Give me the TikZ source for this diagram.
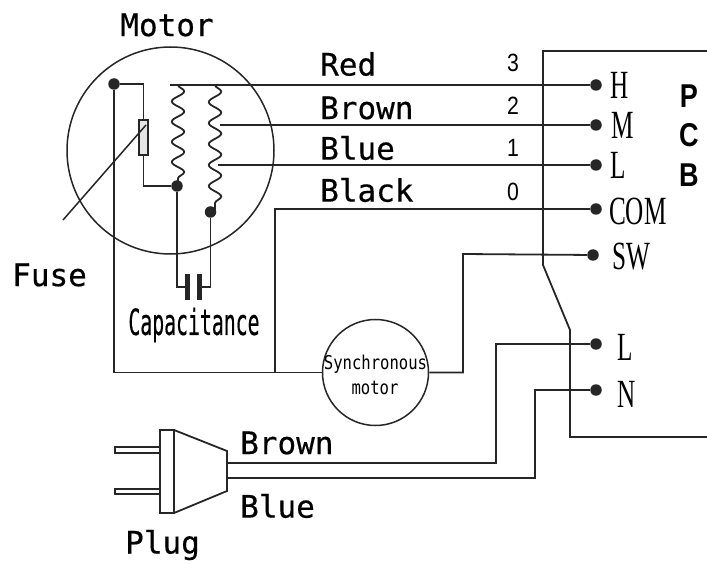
\documentclass[tikz,border=0pt]{standalone}
\usepackage{fontspec}
\usetikzlibrary{positioning,decorations.pathmorphing}
\setmainfont{Liberation Sans}
\newfontfamily\labelfont[FakeBold=0.4]{DejaVu Sans Mono}
\newfontfamily\capfont[FakeStretch=0.55,FakeBold=0.4]{DejaVu Sans Mono}
\newfontfamily\synfont[FakeStretch=0.82]{DejaVu Sans Mono}
\newfontfamily\pinfont[FakeStretch=0.63]{Liberation Serif}
\newfontfamily\pcbfont[FakeStretch=0.82]{Liberation Sans Bold}
\newfontfamily\numfont[FakeStretch=0.85]{Liberation Sans}
\definecolor{inkline}{HTML}{262626}
\tikzset{
  wire/.style={draw=inkline,line width=1.8pt,line join=miter},
  thin wire/.style={draw=inkline,line width=1.5pt},
  dot/.style={circle,fill=black!85,inner sep=0pt,minimum size=11.5pt},
  coil/.style={wire,decorate,decoration={snake,segment length=#1,amplitude=6.2pt}},
  wire label/.style={inner sep=0pt,font=\labelfont\fontsize{31}{31}\selectfont},
  num label/.style={inner sep=0pt,font=\numfont\fontsize{25}{25}\selectfont},
  pcb label/.style={inner sep=0pt,font=\pcbfont\fontsize{33}{33}\selectfont},
  pin label/.style={inner sep=0pt,font=\pinfont\fontsize{40}{40}\selectfont},
}
\begin{document}
\begin{tikzpicture}[x=1pt,y=-1pt]
    \useasboundingbox (0,0) rectangle (707,564);
    % motor and its parts
    \node[circle,thin wire,minimum size=207pt,inner sep=0pt] (motor) at (170.5,150.5) {};
    \node[dot] (gnd) at (114,84) {};
    \node[dot] (c1)  at (177,186) {};
    \node[dot] (c2)  at (210.5,212) {};
    \node[draw=inkline,fill=black!10,line width=1.2pt,minimum width=9pt,minimum height=35pt,inner sep=0pt] (fuse) at (143.5,137.5) {};
    \coordinate (fuse_top) at (143.5,84);
    \coordinate (fuse_bot) at (143.5,186);
    \coordinate (fuse_tip) at (146,125);
    \coordinate (fuse_end) at (63,220);
    \coordinate (red_in)   at (170,85);
    \coordinate (brown_in) at (220,125);
    \coordinate (blue_in)  at (218,165);
    \coordinate (coil1_a)  at (178,85);
    \coordinate (coil1_b)  at (178,186);
    \coordinate (coil2_a)  at (215,85);
    \coordinate (coil2_b)  at (215,212);
    % pins
    \node[dot] (h)   at (596,85)  {};
    \node[dot] (m)   at (596,125) {};
    \node[dot] (l)   at (596,165) {};
    \node[dot] (com) at (596,209) {};
    \node[dot] (sw)  at (593,255) {};
    \node[dot] (ln)  at (596,344) {};
    \node[dot] (nn)  at (596,390) {};
    \node[pin label] [right=8pt of h]   {H};
    \node[pin label] [right=9pt of m]   {M};
    \node[pin label] [right=8pt of l]   {L};
    \node[pin label] [right=7pt of com,yshift=-2pt] {COM};
    \node[pin label] [right=13pt of sw,yshift=-2pt] {SW};
    \node[pin label] [right=15pt of ln,yshift=-3pt] {L};
    \node[pin label] [right=15pt of nn,yshift=-4pt] {N};
    % synchronous motor
    \node[circle,thin wire,minimum size=106pt,inner sep=0pt] (syn) at (375.5,372.5) {};
    \node[inner sep=0pt,font=\synfont\fontsize{19}{19}\selectfont] at (375.5,364) {Synchronous};
    \node[inner sep=0pt,font=\synfont\fontsize{19}{19}\selectfont] at (375,388) {motor};
    % capacitor
    \node[fill=black!85,minimum width=5.5pt,minimum height=26pt,inner sep=0pt] (plate_a) at (187.5,287) {};
    \node[fill=black!85,minimum width=5.5pt,minimum height=26pt,inner sep=0pt] (plate_b) at (199.5,287) {};
    \coordinate (cap_a) at (177,287);
    \coordinate (cap_b) at (210.5,287);
    % plug
    \node[draw=inkline,line width=1.6pt,minimum width=14pt,minimum height=83pt,inner sep=0pt] (plug) at (167,471.5) {};
    \coordinate (t1) at (174,430);
    \coordinate (t2) at (227,451);
    \coordinate (t3) at (227,491);
    \coordinate (t4) at (174,513);
    \coordinate (p_a) at (115,447);
    \coordinate (p_b) at (160,453);
    \coordinate (q_a) at (115,489);
    \coordinate (q_b) at (160,494);
    \coordinate (plug_l) at (227,463);
    \coordinate (plug_n) at (227,478);
    % corners of the board and of the wires
    \coordinate (pcb_a) at (707,51);
    \coordinate (pcb_b) at (543,51);
    \coordinate (pcb_c) at (543,265);
    \coordinate (pcb_d) at (570,330);
    \coordinate (pcb_e) at (570,437);
    \coordinate (pcb_f) at (707,437);
    \coordinate (blk)   at (275,209);
    \coordinate (blk_b) at (275,372.5);
    \coordinate (gnd_b) at (114,372.5);
    \coordinate (sw_a)  at (463,372.5);
    \coordinate (sw_b)  at (463,254);
    \coordinate (ln_a)  at (496,344);
    \coordinate (ln_b)  at (496,463);
    \coordinate (nn_a)  at (535,390);
    \coordinate (nn_b)  at (535,478);
    % board outline
    \draw[wire] (pcb_a) -- (pcb_b) -- (pcb_c) -- (pcb_d) -- (pcb_e) -- (pcb_f);
    % motor edges
    \draw[wire] (gnd) -- (fuse_top) -- (fuse) -- (fuse_bot) -- (c1);
    \draw[thin wire] (fuse_end) -- (fuse_tip);
    \draw[coil=20.2pt] (coil1_a) -- (coil1_b);
    \draw[coil=21pt] (coil2_a) -- (coil2_b);
    % top edges
    \draw[wire] (red_in) -- (h);
    \draw[wire] (brown_in) -- (m);
    \draw[wire] (blue_in) -- (l);
    \draw[wire] (com) -- (blk) -- (blk_b);
    % capacitor edges
    \draw[wire] (c1) -- (cap_a) -- (plate_a);
    \draw[wire] (c2) -- (cap_b) -- (plate_b);
    % bottom edges
    \draw[wire] (gnd) -- (gnd_b) -- (syn);
    \draw[wire] (syn) -- (sw_a) -- (sw_b) -- (sw);
    \draw[wire] (ln) -- (ln_a) -- (ln_b) -- (plug_l);
    \draw[wire] (nn) -- (nn_a) -- (nn_b) -- (plug_n);
    % plug body
    \draw[wire] (t1) -- (t2) -- (t3) -- (t4);
    \draw[thin wire] (p_a) rectangle (p_b);
    \draw[thin wire] (q_a) rectangle (q_b);
    % labels
    \node[wire label] (motor_txt) at (167,25)  {Motor};
    \node[wire label,anchor=west] (red_txt)   at (320,64)  {Red};
    \node[wire label,anchor=west] (brown_txt) at (320,108) {Brown};
    \node[wire label,anchor=west] (blue_txt)  at (320,148) {Blue};
    \node[wire label,anchor=west] (black_txt) at (320,190) {Black};
    \node[wire label,anchor=west] (fuse_txt)  at (12,275)  {Fuse};
    \node[wire label,anchor=west] (lbrown_txt) at (240,443) {Brown};
    \node[wire label,anchor=west] (lblue_txt)  at (240,506) {Blue};
    \node[wire label,anchor=west] (plug_txt)   at (125,545) {Plug};
    \node[inner sep=0pt,font=\capfont\fontsize{36}{36}\selectfont] (cap_txt) at (194,325) {Capacitance};
    \node[num label] at (513,63)  {3};
    \node[num label] at (513,106) {2};
    \node[num label] at (513,148) {1};
    \node[num label] at (513,192) {0};
    \node[pcb label] at (689,96)  {P};
    \node[pcb label] at (689,135) {C};
    \node[pcb label] at (689,175) {B};
\end{tikzpicture}
\end{document}
